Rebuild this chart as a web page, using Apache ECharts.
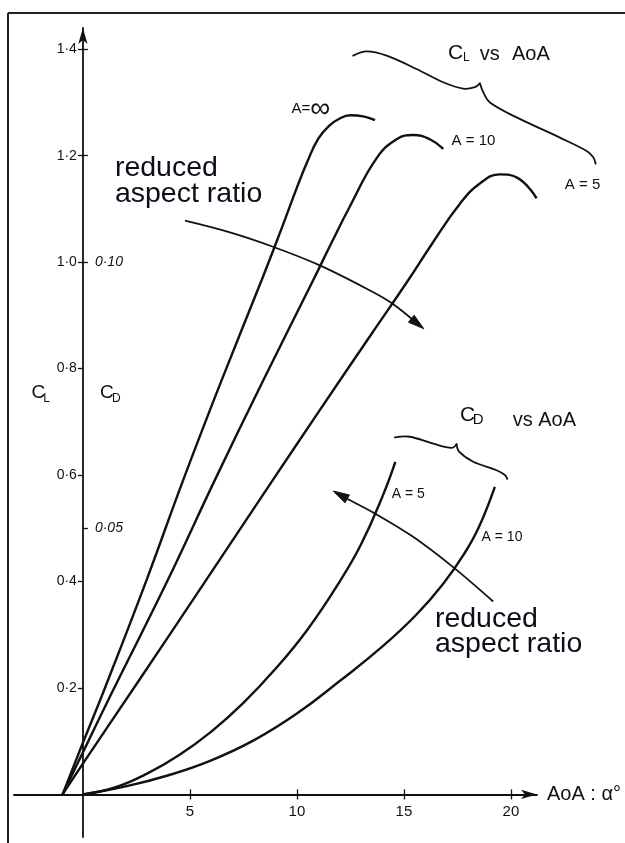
<!DOCTYPE html>
<html>
<head>
<meta charset="utf-8">
<script src="https://cdn.jsdelivr.net/npm/echarts@6/dist/echarts.min.js"></script>
<style>
  html, body { margin: 0; padding: 0; background: #fff; }
  #chart { width: 625px; height: 843px; }
</style>
</head>
<body>
<div id="chart"></div>
<script>
// Lift coefficient vs angle of attack (degrees) for three aspect ratios
const clInfAoa  = [-0.95, 0, 1.03, 2.93, 4.69, 6.48, 8.35, 9.3, 10.0, 10.5, 11.0, 11.5, 12.0, 12.5, 13.1, 13.65];
const clInfVal  = [0, 0.097, 0.2, 0.398, 0.591, 0.778, 0.966, 1.065, 1.14, 1.19, 1.232, 1.256, 1.27, 1.276, 1.274, 1.267];

const cl10Aoa   = [-0.95, 0, 1.34, 3.91, 6.17, 8.43, 10.76, 11.6, 12.48, 13.72, 14.66, 15.43, 16.21, 16.84];
const cl10Val   = [0, 0.079, 0.19, 0.398, 0.591, 0.778, 0.966, 1.035, 1.105, 1.195, 1.231, 1.239, 1.231, 1.213];

const cl5Aoa    = [-0.95, 0, 2.5, 5.78, 8.88, 11.07, 13.5, 15.2, 16.37, 17.62, 18.55, 19.49, 20.33, 21.2];
const cl5Val    = [0, 0.058, 0.207, 0.404, 0.591, 0.722, 0.866, 0.966, 1.038, 1.11, 1.148, 1.165, 1.158, 1.12];

// Drag coefficient vs angle of attack for two aspect ratios
const cd5Aoa    = [0, 1.5, 3, 4.5, 6, 7.5, 9, 10.5, 12, 13, 14, 14.6];
const cd5Val    = [0, 0.0013, 0.0039, 0.0074, 0.0118, 0.0172, 0.0236, 0.0310, 0.0400, 0.0470, 0.0560, 0.0625];

const cd10Aoa   = [0, 2, 4, 6, 8, 10, 12, 14, 15.59, 16.82, 17.8, 18.5, 19.25];
const cd10Val   = [0, 0.0015, 0.0036, 0.0064, 0.0102, 0.0152, 0.0213, 0.0278, 0.0338, 0.0395, 0.0451, 0.0502, 0.0578];

// Axis ranges and ticks
const aoaMin = -3.22, aoaMax = 21.22;
const clMin = -0.08, clMax = 1.44;
const aoaTicks  = [5, 10, 15, 20];
const clTicks   = [0.2, 0.4, 0.6, 0.8, 1.0, 1.2, 1.4];
const cdTicks   = [0.05, 0.10, 0.12, 0.14];
const cdLabels  = [0.05, 0.10];

// Annotation geometry in (angle of attack, C_L) units
const braceClA  = [[12.63, 1.388], [13.26, 1.396], [14.19, 1.388], [15.59, 1.363], [16.84, 1.338], [17.77, 1.326], [18.32, 1.329], [18.55, 1.336]];
const braceClB  = [[18.55, 1.336], [18.71, 1.319], [19.02, 1.300], [20.27, 1.272], [22.29, 1.234], [23.54, 1.209], [23.85, 1.197], [23.96, 1.185]];
const braceCdA  = [[14.58, 0.671], [15.28, 0.672], [16.37, 0.659], [17.23, 0.651], [17.46, 0.658]];
const braceCdB  = [[17.46, 0.658], [17.58, 0.644], [18.24, 0.625], [19.33, 0.609], [19.72, 0.600], [19.83, 0.593]];
const arrowCl   = [[4.77, 1.078], [6.87, 1.056], [8.88, 1.029], [11.07, 0.994], [13.41, 0.947], [14.44, 0.923], [15.93, 0.875]];
const arrowCd   = [[19.17, 0.3625], [17.3, 0.427], [15.43, 0.484], [13.64, 0.528], [12.32, 0.556], [11.7, 0.570]];

const INK = '#111';
const FONT = '"Liberation Sans", Arial, sans-serif';

// grid box (pixels) and where the zero lines fall inside it
const W = 625, H = 843;
const G = { left: 14, right: 88, top: 28, bottom: 6 };
const gridW = W - G.left - G.right, gridH = H - G.top - G.bottom;
const xZeroFromLeft = gridW * (0 - aoaMin) / (aoaMax - aoaMin);
const yZeroFromTop = gridH * (clMax - 0) / (clMax - clMin);

function pairs(xs, ys) { return xs.map((x, i) => [x, ys[i]]); }
const clFmt = v => v.toFixed(1).replace('.', '\u00b7');
const cdFmt = v => v.toFixed(2).replace('.', '\u00b7');

function curve(name, xs, ys, yAxisIndex) {
  return {
    name, type: 'line', xAxisIndex: 0, yAxisIndex,
    data: pairs(xs, ys), smooth: 0.45, symbol: 'none', silent: true, clip: false,
    lineStyle: { color: INK, width: 2.4 }
  };
}

const chart = echarts.init(document.getElementById('chart'), null, { renderer: 'canvas' });

const hidden = { show: true, onZero: false, lineStyle: { color: 'rgba(0,0,0,0)', width: 0 } };
const tick = vals => ({ customValues: vals, length: 5, lineStyle: { color: INK, width: 1.3 } });
const mainLine = { onZero: false, lineStyle: { color: INK, width: 1.8 },
                   symbol: ['none', 'arrow'], symbolSize: [7, 16] };

chart.setOption({
  animation: false,
  backgroundColor: '#fff',
  grid: Object.assign({ containLabel: false, outerBoundsMode: 'none' }, G),
  xAxis: [
    {
      type: 'value', min: aoaMin, max: aoaMax, position: 'bottom', offset: -(gridH - yZeroFromTop),
      axisLine: mainLine,
      axisTick: tick(aoaTicks),
      axisLabel: { customValues: aoaTicks, margin: 10, color: INK, fontSize: 15, fontFamily: FONT },
      splitLine: { show: false },
      name: 'AoA : \u03b1\u00b0', nameLocation: 'end', nameGap: 10,
      nameTextStyle: { color: INK, fontSize: 20, fontFamily: FONT, verticalAlign: 'middle' }
    },
    {
      type: 'value', min: aoaMin, max: aoaMax, position: 'top', offset: -yZeroFromTop,
      axisLine: hidden, axisTick: tick(aoaTicks),
      axisLabel: { show: false }, splitLine: { show: false }
    }
  ],
  yAxis: [
    {
      type: 'value', min: clMin, max: clMax, position: 'left', offset: -xZeroFromLeft,
      axisLine: mainLine,
      axisTick: tick(clTicks),
      axisLabel: { customValues: clTicks, margin: 6, color: INK, fontSize: 14, fontFamily: FONT, formatter: clFmt },
      splitLine: { show: false }
    },
    {
      type: 'value', min: clMin / 10, max: clMax / 10, position: 'right', offset: -(gridW - xZeroFromLeft),
      axisLine: hidden, axisTick: tick(cdTicks),
      axisLabel: { customValues: cdLabels, margin: 12, color: INK, fontSize: 14, fontStyle: 'italic',
                   fontFamily: FONT, formatter: cdFmt },
      splitLine: { show: false }
    }
  ],
  series: [
    curve('CL A=inf', clInfAoa, clInfVal, 0),
    curve('CL A=10', cl10Aoa, cl10Val, 0),
    curve('CL A=5', cl5Aoa, cl5Val, 0),
    curve('CD A=5', cd5Aoa, cd5Val, 1),
    curve('CD A=10', cd10Aoa, cd10Val, 1)
  ]
});

// ---- annotations, placed through the chart's own coordinate system ----
const toPx = p => chart.convertToPixel({ xAxisIndex: 0, yAxisIndex: 0 }, p);

function pathEl(pts, width) {
  return { type: 'polyline', silent: true, z: 10,
           shape: { points: pts.map(toPx), smooth: 0.35 },
           style: { stroke: INK, lineWidth: width, fill: null, lineCap: 'round' } };
}

function arrowEls(pts) {
  const px = pts.map(toPx);
  const tip = px[px.length - 1];
  const prev = px[px.length - 2];
  const dx = tip[0] - prev[0], dy = tip[1] - prev[1];
  const len = Math.hypot(dx, dy);
  const ux = dx / len, uy = dy / len;
  const headLen = 16, half = 4.5;
  const base = [tip[0] - ux * headLen, tip[1] - uy * headLen];
  const shaft = px.slice(0, -1).concat([[tip[0] - ux * headLen * 0.6, tip[1] - uy * headLen * 0.6]]);
  return [
    { type: 'polyline', silent: true, z: 10, shape: { points: shaft, smooth: 0.35 },
      style: { stroke: INK, lineWidth: 1.8, fill: null } },
    { type: 'polygon', silent: true, z: 10,
      shape: { points: [tip, [base[0] - uy * half, base[1] + ux * half], [base[0] + uy * half, base[1] - ux * half]] },
      style: { fill: INK, stroke: INK, lineWidth: 1 } }
  ];
}

function textEl(str, at, size, extra) {
  const p = toPx(at);
  return { type: 'text', silent: true, z: 12, x: p[0], y: p[1],
    style: Object.assign({ text: str, fill: INK, font: size + 'px ' + FONT,
                           align: 'left', verticalAlign: 'middle' }, extra || {}) };
}

const capInk = { fill: '#0d0d1a' };
const infAt = toPx([9.75, 1.288]);

const graphics = [
  // frame
  { type: 'line', silent: true, shape: { x1: 8, y1: 13, x2: 8, y2: H }, style: { stroke: '#222', lineWidth: 2 } },
  { type: 'line', silent: true, shape: { x1: 8, y1: 13, x2: W, y2: 13 }, style: { stroke: '#222', lineWidth: 2 } },

  pathEl(braceClA, 1.8), pathEl(braceClB, 1.8),
  pathEl(braceCdA, 1.8), pathEl(braceCdB, 1.8),
  ...arrowEls(arrowCl), ...arrowEls(arrowCd),

  // axis titles
  textEl('C', [-2.40, 0.754], 19),
  textEl('L', [-1.855, 0.7435], 12),
  textEl('C', [0.794, 0.754], 19),
  textEl('D', [1.355, 0.744], 12),

  // group titles
  textEl('C', [17.06, 1.392], 21),
  textEl('L', [17.76, 1.384], 12),
  textEl('vs', [18.55, 1.391], 20),
  textEl('AoA', [20.05, 1.391], 20),
  textEl('C', [17.62, 0.7125], 21),
  textEl('D', [18.22, 0.703], 15),
  textEl('vs', [20.09, 0.703], 20),
  textEl('AoA', [21.28, 0.703], 20),

  // curve labels
  { type: 'text', silent: true, z: 12, x: infAt[0], y: infAt[1],
    style: { text: '{a|A=}{b|\u221e}', align: 'left', verticalAlign: 'middle',
             rich: { a: { fontSize: 15, fontFamily: FONT, fill: INK, color: INK },
                     b: { fontSize: 28, fontFamily: FONT, fill: INK, color: INK } } } },
  textEl('A = 10', [17.23, 1.228], 15),
  textEl('A = 5', [22.52, 1.146], 15),
  textEl('A = 5', [14.43, 0.5644], 14),
  textEl('A = 10', [18.63, 0.484], 14),

  // arrows' captions
  textEl('reduced', [1.495, 1.1775], 28.5, capInk),
  textEl('aspect ratio', [1.495, 1.127], 28.5, capInk),
  textEl('reduced', [16.45, 0.33], 28.5, capInk),
  textEl('aspect ratio', [16.45, 0.283], 28.5, capInk)
];

chart.setOption({ graphic: graphics });
</script>
</body>
</html>
